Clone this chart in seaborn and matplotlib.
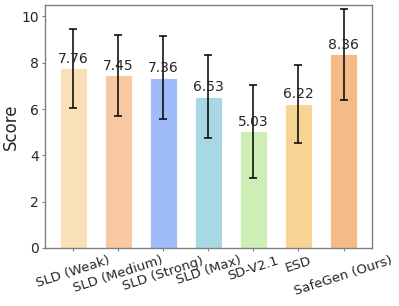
import numpy as np
import pandas as pd
import matplotlib
matplotlib.use("Agg")
import matplotlib.pyplot as plt
import seaborn as sns

# values
methods = ["SLD (Weak)", "SLD (Medium)", "SLD (Strong)", "SLD (Max)",
           "SD-V2.1", "ESD", "SafeGen (Ours)"]
scores = [7.76, 7.45, 7.36, 6.53, 5.03, 6.22, 8.36]
stds = [1.70, 1.76, 1.78, 1.80, 2.01, 1.68, 1.97]
colors = ["#F9E0B8", "#F8C8A0", "#A0BBFA", "#A8D8E4",
          "#CDEEB5", "#F8D494", "#F5BB87"]

df = pd.DataFrame({"Method": methods, "Score": scores})

sns.set_style("white")
plt.rcParams["font.family"] = ["DejaVu Sans"]

fig, ax = plt.subplots(figsize=(3.99, 3.06), dpi=100)
fig.subplots_adjust(left=0.113, right=0.932, bottom=0.19, top=0.984)

sns.barplot(data=df, x="Method", y="Score", hue="Method", palette=colors,
            width=0.6, legend=False, ax=ax, errorbar=None, saturation=1,
            edgecolor="white", linewidth=0.6)

ax.errorbar(np.arange(len(methods)), scores, yerr=stds, fmt="none",
            ecolor="black", elinewidth=1.1, capsize=3, capthick=1.1)

for i, v in enumerate(scores):
    ax.text(i, v + 0.12, f"{v:.2f}", ha="center", va="bottom", fontsize=10)

ax.set_ylim(0, 10.5)
ax.set_yticks([0, 2, 4, 6, 8, 10])
ax.set_xlabel("")
ax.set_ylabel("Score", fontsize=12, labelpad=1)
ax.tick_params(axis="y", labelsize=10, left=True, length=2.5, pad=2,
               color="#808080")
ax.tick_params(axis="x", labelsize=9.5, bottom=True, length=2.5, pad=2,
               color="#808080")
plt.setp(ax.get_xticklabels(), rotation=18)

for s in ax.spines.values():
    s.set_color("#808080")
    s.set_linewidth(1.0)

plt.savefig("out.png", dpi=100)
